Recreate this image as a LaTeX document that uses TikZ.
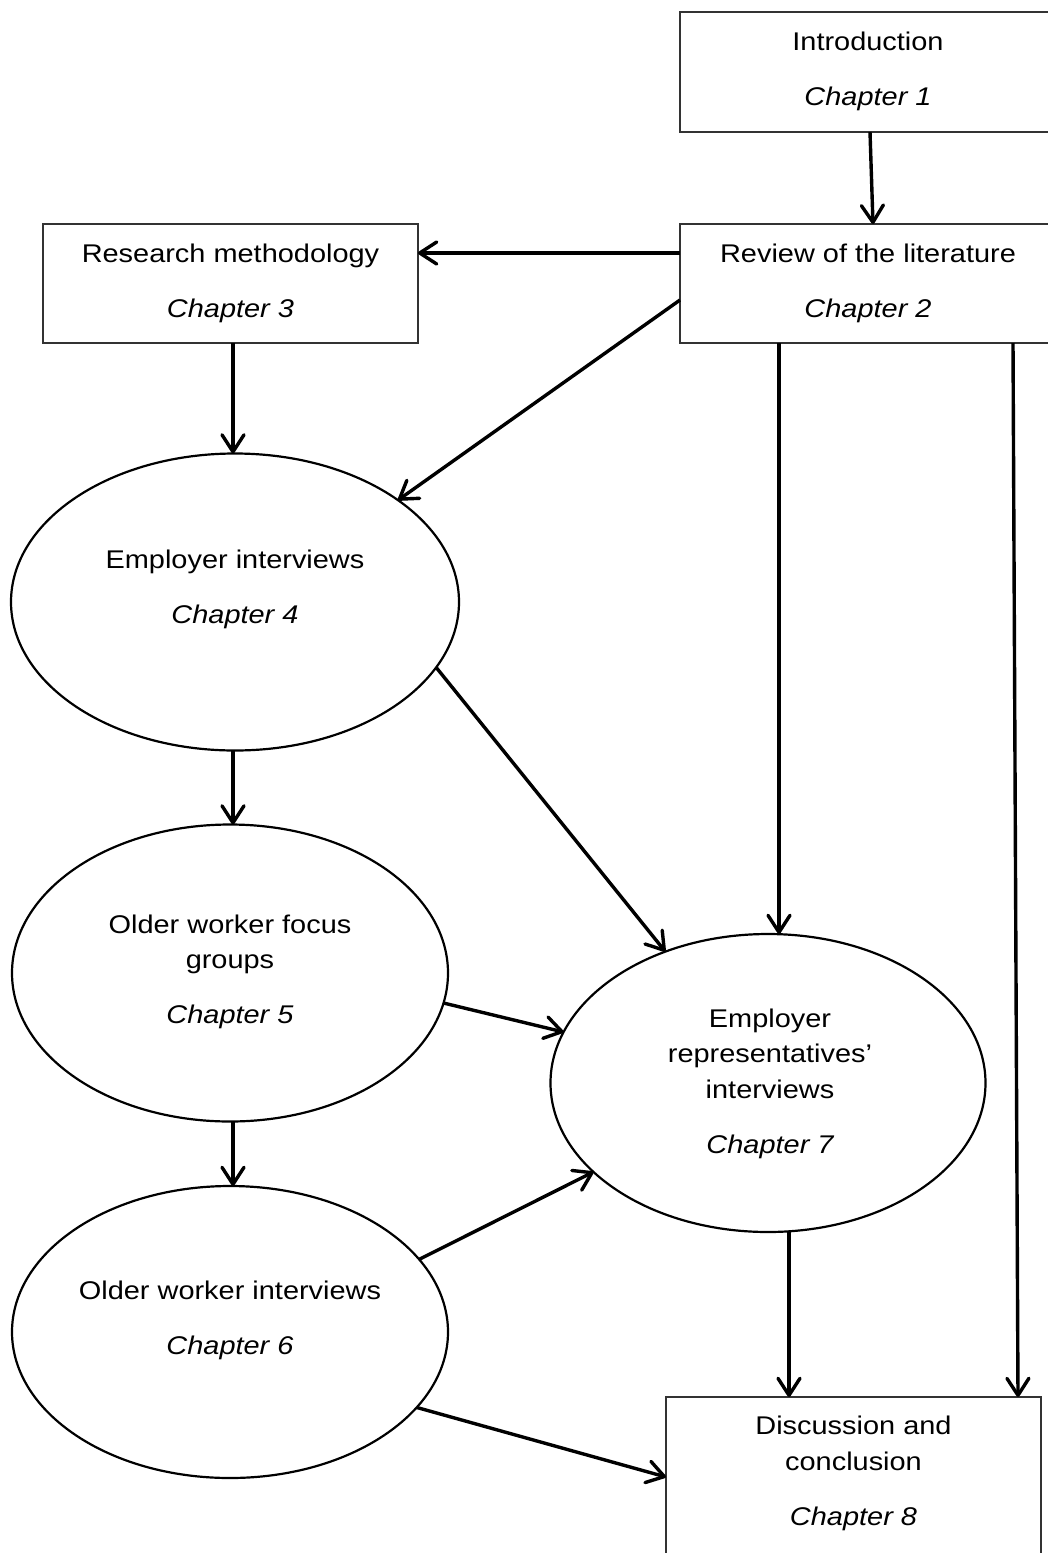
\documentclass[tikz,border=0pt]{standalone}
\usepackage{fontspec}
\setmainfont{Liberation Sans}[FakeStretch=1.13]
\usetikzlibrary{arrows.meta,shapes.geometric}
\begin{document}
\begin{tikzpicture}[x=0.5pt,y=-0.5pt,
  chapbox/.style={draw=black!80, line width=0.6pt, rectangle, inner sep=0pt, outer sep=0pt},
  chapoval/.style={draw=black, line width=1.1pt, ellipse, inner sep=0pt, outer sep=0pt},
  title/.style={anchor=base, inner sep=0pt, font=\fontsize{12.8pt}{15pt}\selectfont},
  chap/.style={title, font=\fontsize{12.8pt}{15pt}\selectfont\itshape},
  flow/.style={line width=1.7pt, -{Straight Barb[length=8.5pt,width=11pt,round]}}]
\useasboundingbox (0,0) rectangle (1048,1553);

% chapter shapes
\node[chapbox, minimum width=188pt, minimum height=60pt] (intro) at (868,72) {};
\node[chapbox, minimum width=188pt, minimum height=59.5pt] (review) at (868,283.5) {};
\node[chapbox, minimum width=187.5pt, minimum height=59.5pt] (method) at (230.5,283.5) {};
\node[chapbox, minimum width=187.5pt, minimum height=86.5pt] (disc) at (853.5,1483.5) {};
\node[chapoval, minimum width=224pt, minimum height=148.5pt] (emp) at (235,602) {};
\node[chapoval, minimum width=218pt, minimum height=148.5pt] (focus) at (230,973) {};
\node[chapoval, minimum width=218pt, minimum height=146pt] (owi) at (230,1332) {};
\node[chapoval, minimum width=217.5pt, minimum height=149pt] (reps) at (768,1083) {};

% labels
\node[title] (introT) at (868,50) {Introduction};
\node[chap] (introC) at (868,105) {Chapter 1};
\node[title] (reviewT) at (868,262) {Review of the literature};
\node[chap] (reviewC) at (868,317) {Chapter 2};
\node[title] (methodT) at (230.5,262) {Research methodology};
\node[chap] (methodC) at (230.5,317) {Chapter 3};
\node[title] (empT) at (235,568) {Employer interviews};
\node[chap] (empC) at (235,623) {Chapter 4};
\node[title] (focusT) at (230,933) {Older worker focus};
\node[title] (focusU) at (230,968) {groups};
\node[chap] (focusC) at (230,1023) {Chapter 5};
\node[title] (owiT) at (230,1299) {Older worker interviews};
\node[chap] (owiC) at (230,1354) {Chapter 6};
\node[title] (repsT) at (770,1027) {Employer};
\node[title] (repsU) at (770,1062) {representatives’};
\node[title] (repsV) at (770,1098) {interviews};
\node[chap] (repsC) at (770,1153) {Chapter 7};
\node[title] (discT) at (853.5,1434) {Discussion and};
\node[title] (discU) at (853.5,1470) {conclusion};
\node[chap] (discC) at (853.5,1525) {Chapter 8};

% connectors
\draw[flow] ([xshift=1pt]intro.south) -- ([xshift=2.5pt]review.north);
\draw[flow] ([yshift=15.25pt]review.west) -- ([yshift=15.25pt]method.east);
\draw[flow] ([yshift=-8.25pt]review.west) -- (emp.32);
\draw[flow] ([xshift=1.25pt]method.south) -- ([xshift=-1pt]emp.north);
\draw[flow] ([xshift=-44.5pt]review.south) -- ([xshift=-44.5pt]review.south |- reps.north);
\draw[flow] ([xshift=72.5pt]review.south) -- ([xshift=82.25pt]disc.north);
\draw[flow] (emp.-18) -- (reps.128);
\draw[flow] ([xshift=-1pt]emp.south) -- ([xshift=1.5pt]focus.north);
\draw[flow] (focus.-8) -- (reps.166);
\draw[flow] ([xshift=1.5pt]focus.south) -- ([xshift=1.5pt]owi.north);
\draw[flow] (owi.21) -- (reps.207);
\draw[flow] (owi.-22) -- ([yshift=-40pt]disc.north west);
\draw[flow] ([xshift=10.5pt]reps.south) -- ([xshift=10.5pt]reps.south |- disc.north);
\end{tikzpicture}
\end{document}
